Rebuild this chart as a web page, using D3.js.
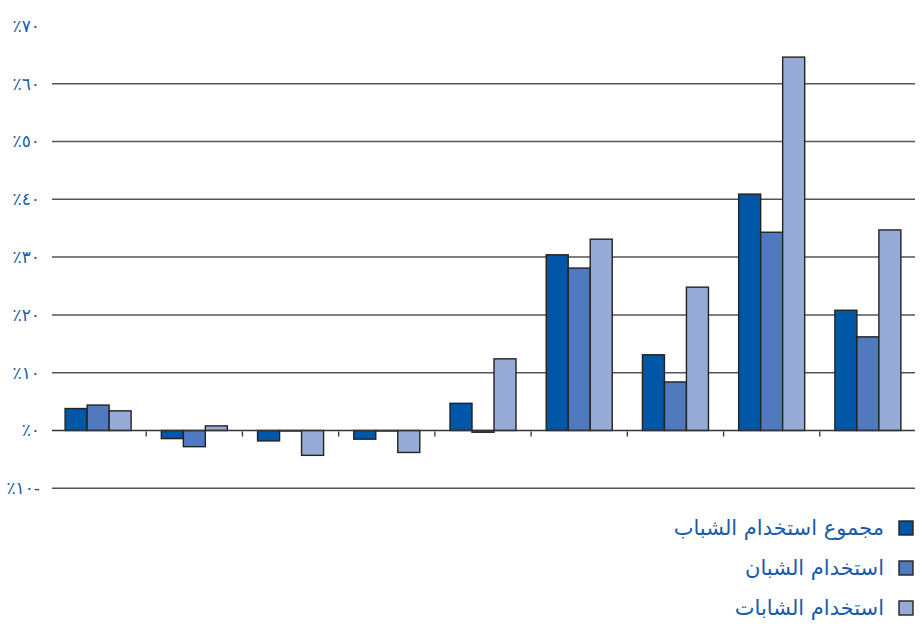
<!DOCTYPE html>
<html lang="ar">
<head>
<meta charset="utf-8">
<script src="https://cdn.jsdelivr.net/npm/d3@7"></script>
<style>
  html, body { margin: 0; padding: 0; background: #fff; }
  svg { display: block; }
</style>
</head>
<body>
<svg id="chart" width="922" height="628"></svg>
<script>
// Group keys (one per cluster of three bars)
const categories = ["1", "2", "3", "4", "5", "6", "7", "8", "9"];

// Series names, in legend order
const seriesNames = ["مجموع استخدام الشباب", "استخدام الشبان", "استخدام الشابات"];

// Percent values per series, aligned with categories
const totalYouth = [3.8, -1.4, -1.8, -1.5, 4.7, 30.4, 13.1, 40.9, 20.8];
const youngMen   = [4.4, -2.8, 0.0, 0.0, -0.3, 28.1, 8.4, 34.3, 16.2];
const youngWomen = [3.4, 0.8, -4.3, -3.8, 12.4, 33.1, 24.8, 64.6, 34.7];

// Y axis ticks and their labels (Arabic-Indic digits)
const yTicks = [-10, 0, 10, 20, 30, 40, 50, 60, 70];
const yTickLabels = ["٪١٠-", "٪٠", "٪١٠", "٪٢٠", "٪٣٠", "٪٤٠", "٪٥٠", "٪٦٠", "٪٧٠"];

const seriesValues = [totalYouth, youngMen, youngWomen];
const colors = ["#0057a8", "#5079bf", "#98aad6"];

const svg = d3.select("#chart");

const x0 = d3.scaleBand().domain(categories).range([50, 916]).paddingInner(0).paddingOuter(0);
const innerWidth = 66;
const x1 = d3.scaleBand().domain(d3.range(seriesNames.length)).range([0, innerWidth]);
const y = d3.scaleLinear().domain([-10, 70]).range([488.3, 25.9]);

// Y axis labels
const yAxis = d3.axisLeft(y)
  .tickValues(yTicks)
  .tickSize(0)
  .tickFormat((d, i) => yTickLabels[i]);

const gy = svg.append("g")
  .attr("transform", "translate(40,0)")
  .call(yAxis);
gy.select(".domain").remove();
gy.selectAll("text")
  .attr("x", 0)
  .attr("fill", "#1a5ba8")
  .attr("font-family", "DejaVu Sans, sans-serif")
  .attr("font-size", 17)
  .attr("direction", "ltr");

// Horizontal gridlines (the zero line is drawn separately)
svg.append("g")
  .selectAll("line")
  .data(yTicks.filter(t => t !== 0 && t !== 70))
  .join("line")
  .attr("x1", 52).attr("x2", 915)
  .attr("y1", d => y(d)).attr("y2", d => y(d))
  .attr("stroke", "#555")
  .attr("stroke-width", 1.5);

// Bars
const groups = svg.append("g")
  .selectAll("g")
  .data(categories)
  .join("g")
  .attr("transform", d => `translate(${x0(d) + (x0.bandwidth() - innerWidth) / 2},0)`);

groups.selectAll("rect")
  .data((d, i) => seriesValues.map((vals, s) => ({ s, v: vals[i] })))
  .join("rect")
  .attr("x", d => x1(d.s))
  .attr("width", x1.bandwidth())
  .attr("y", d => y(Math.max(0, d.v)))
  .attr("height", d => Math.max(Math.abs(y(d.v) - y(0)), 0.5))
  .attr("fill", d => colors[d.s])
  .attr("stroke", "#222")
  .attr("stroke-width", 1.4);

// Zero line with ticks at group boundaries
svg.append("line")
  .attr("x1", 52).attr("x2", 915)
  .attr("y1", y(0)).attr("y2", y(0))
  .attr("stroke", "#333")
  .attr("stroke-width", 1.5);

svg.append("g")
  .selectAll("line")
  .data(categories.slice(1))
  .join("line")
  .attr("x1", d => x0(d)).attr("x2", d => x0(d))
  .attr("y1", y(0) + 1).attr("y2", y(0) + 6)
  .attr("stroke", "#333")
  .attr("stroke-width", 1.3);

// Legend
const legend = svg.append("g")
  .selectAll("g")
  .data(seriesNames)
  .join("g")
  .attr("transform", (d, i) => `translate(0,${528 + i * 40})`);

legend.append("rect")
  .attr("x", 899).attr("y", -7)
  .attr("width", 14).attr("height", 14)
  .attr("fill", (d, i) => colors[i])
  .attr("stroke", "#222")
  .attr("stroke-width", 1.4);

legend.append("text")
  .attr("x", 884)
  .attr("y", 0)
  .attr("dy", "0.35em")
  .attr("text-anchor", "end")
  .attr("fill", "#1a5ba8")
  .attr("font-family", "DejaVu Sans, sans-serif")
  .attr("font-size", 21)
  .text(d => d);
</script>
</body>
</html>
